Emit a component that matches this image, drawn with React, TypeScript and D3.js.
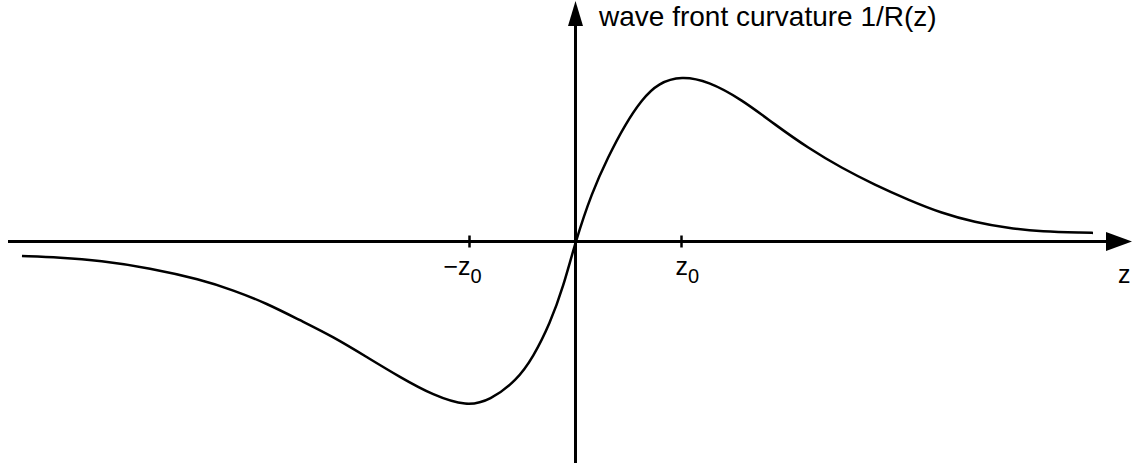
import React from "react";
import * as d3 from "d3";

// Sampled wave front curvature 1/R(z): z in units of z0, curvature in units of 1/z0
const zValues = [
  -5.222, -4.863, -4.486, -4.014, -3.542, -3.228, -2.913, -2.599, -2.285,
  -1.97, -1.656, -1.342, -1.026, -0.807, -0.555, -0.398, -0.241, -0.115, 0,
  0.153, 0.309, 0.467, 0.625, 0.781, 1.0, 1.253, 1.568, 1.882, 2.196, 2.511,
  2.825, 3.139, 3.455, 3.769, 4.083, 4.398, 4.807, 4.882,
];
const curvatureValues = [
  -0.044, -0.0485, -0.0576, -0.0803, -0.1145, -0.147, -0.187, -0.238, -0.288,
  -0.349, -0.41, -0.465, -0.498, -0.48, -0.42, -0.349, -0.248, -0.137, 0,
  0.147, 0.257, 0.353, 0.429, 0.479, 0.5, 0.484, 0.429, 0.353, 0.282, 0.222,
  0.171, 0.126, 0.0855, 0.0582, 0.04, 0.0297, 0.0267, 0.026,
];
const tickValues = [-1, 1];
const tickLabels = ["−z", "z"];
const yAxisTitle = "wave front curvature 1/R(z)";
const xAxisTitle = "z";

const W = 1137;
const H = 463;

export default function App() {
  const x = d3.scaleLinear().domain([0, 1]).range([575.5, 681.5]);
  const y = d3.scaleLinear().domain([0, 0.5]).range([241.5, 76]);

  const points: [number, number][] = zValues.map((z, i) => [z, curvatureValues[i]]);
  const line = d3
    .line<[number, number]>()
    .x((d) => x(d[0]))
    .y((d) => y(d[1]))
    .curve(d3.curveBasis);

  const x0 = x(0);
  const y0 = y(0);
  const font = "'Liberation Sans', Arial, sans-serif";

  return (
    <svg
      width={W}
      height={H}
      style={{ position: "absolute", left: 0, top: 0, background: "#fff" }}
    >
      {/* horizontal axis with arrow */}
      <line x1={8} y1={y0} x2={1110} y2={y0} stroke="#000" strokeWidth={3} />
      <path
        d={`M${1132},${y0} L${1106},${y0 - 9.5} L${1106},${y0 + 9.5} Z`}
        fill="#000"
      />
      {/* vertical axis with arrow */}
      <line x1={x0} y1={H} x2={x0} y2={22} stroke="#000" strokeWidth={3} />
      <path
        d={`M${x0},${1} L${x0 - 7.5},${26} L${x0 + 7.5},${26} Z`}
        fill="#000"
      />
      {/* ticks */}
      {tickValues.map((t) => (
        <line
          key={t}
          x1={x(t)}
          x2={x(t)}
          y1={y0 - 6}
          y2={y0 + 6}
          stroke="#000"
          strokeWidth={2.5}
        />
      ))}
      {tickValues.map((t, i) => (
        <text
          key={"l" + t}
          x={t < 0 ? x(t) - 26 : x(t) - 6}
          y={275}
          fontFamily={font}
          fontSize={25}
          fill="#000"
        >
          {tickLabels[i]}
          <tspan fontSize={20} dy={8}>
            0
          </tspan>
        </text>
      ))}
      {/* curve */}
      <path d={line(points) ?? ""} fill="none" stroke="#000" strokeWidth={2.5} />
      {/* axis titles */}
      <text x={599} y={26} fontFamily={font} fontSize={28} fill="#000">
        {yAxisTitle}
      </text>
      <text x={1118} y={283} fontFamily={font} fontSize={25} fill="#000">
        {xAxisTitle}
      </text>
    </svg>
  );
}
